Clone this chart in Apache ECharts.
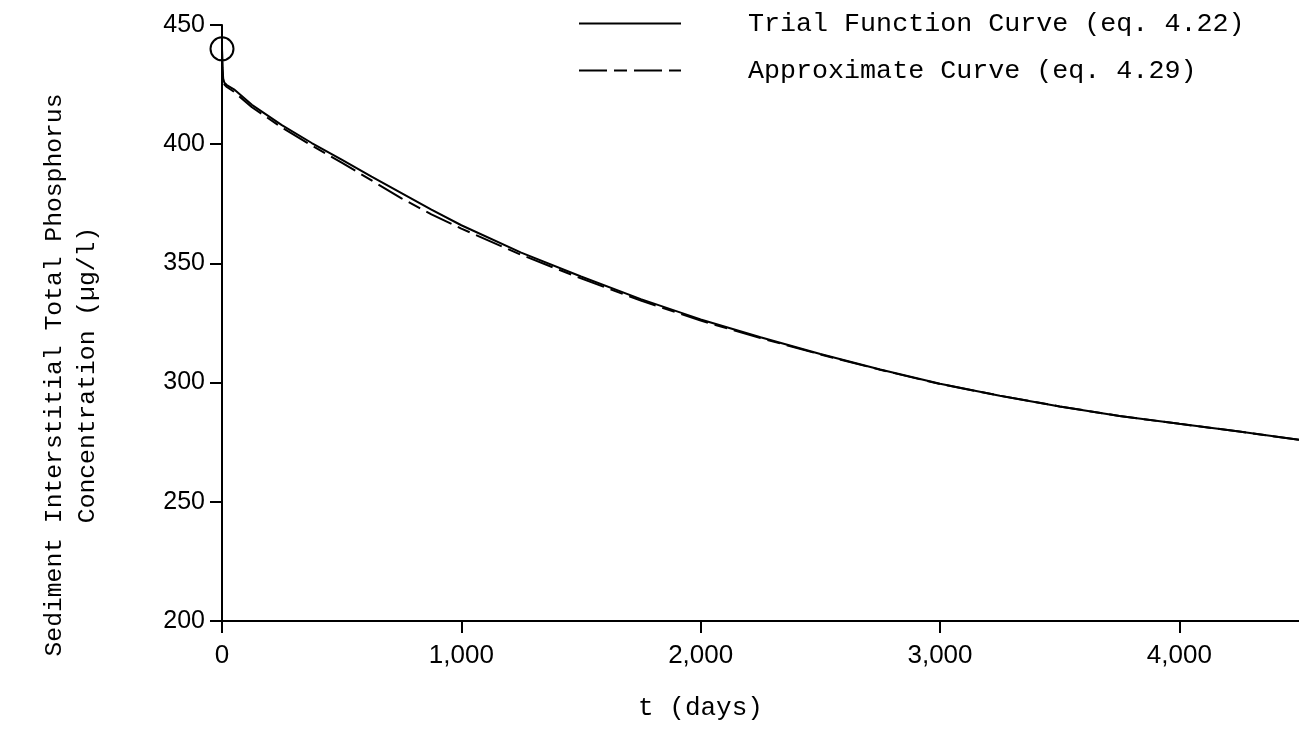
<!DOCTYPE html>
<html>
<head>
<meta charset="utf-8">
<script src="https://cdn.jsdelivr.net/npm/echarts@6/dist/echarts.min.js"></script>
<style>html,body{margin:0;padding:0;background:#fff}#c{width:1299px;height:739px}</style>
</head>
<body>
<div id="c"></div>
<script>
// Data
var tDays = [0, 2, 5, 10, 20, 50, 125, 250, 375, 500, 625, 750, 875, 1000, 1250, 1500, 1750, 2000, 2250, 2500, 2750, 3000, 3250, 3500, 3750, 4000, 4250, 4500];
var trialCurve = [440, 432, 427.5, 425.8, 424.8, 423, 416.5, 408, 400.5, 393.5, 386.4, 379.5, 372.6, 366, 354.5, 344.5, 335, 326.5, 319, 312, 305.5, 299.5, 294.5, 290, 286, 282.7, 279.5, 276];
var approxCurve = [440, 431.5, 427, 425, 424, 422, 415.5, 407, 399.4, 392.3, 384.8, 377.3, 370.6, 364.6, 353.6, 343.7, 334.4, 326, 318.7, 311.8, 305.4, 299.4, 294.5, 290, 286, 282.7, 279.5, 276];
var initialPoint = [[0, 440]];
var seriesNames = ['Trial Function Curve (eq. 4.22)', 'Approximate Curve (eq. 4.29)'];
var xTickValues = [0, 1000, 2000, 3000, 4000];
var yTitle = 'Sediment Interstitial Total Phosphorus\nConcentration (\u00b5g/l)';
var xTitle = 't (days)';

function pairs(xs, ys) { return xs.map(function (x, i) { return [x, ys[i]]; }); }

var mono = 'Liberation Mono';
var sans = 'Liberation Sans';

var chart = echarts.init(document.getElementById('c'), null, {renderer: 'canvas'});
chart.setOption({
  animation: false,
  backgroundColor: '#fff',
  grid: {left: 222, right: 0, top: 25, bottom: 118, containLabel: false, outerBoundsMode: 'none'},
  legend: {
    data: seriesNames,
    orient: 'vertical',
    left: 573,
    top: 5,
    itemWidth: 102,
    itemHeight: 20,
    itemGap: 20,
    itemStyle: {color: 'rgba(0,0,0,0)', borderColor: 'rgba(0,0,0,0)', borderWidth: 0},
    textStyle: {fontFamily: mono, fontSize: 26.7, color: '#000', padding: [0, 0, 0, 62]},
    inactiveColor: '#000'
  },
  xAxis: {
    type: 'value', min: 0, max: 4500, interval: 1000,
    name: xTitle, nameLocation: 'middle', nameGap: 74,
    nameTextStyle: {fontFamily: mono, fontSize: 26, color: '#000', padding: [0, 120, 0, 0]},
    axisLine: {lineStyle: {color: '#000', width: 2}},
    axisTick: {show: true, length: 12, inside: false, customValues: xTickValues, lineStyle: {color: '#000', width: 2}},
    axisLabel: {fontFamily: sans, fontSize: 26, color: '#000', margin: 22, customValues: xTickValues,
      formatter: function (v) { return v.toLocaleString('en-US'); }},
    splitLine: {show: false}
  },
  yAxis: {
    type: 'value', min: 200, max: 450, interval: 50,
    name: yTitle, nameLocation: 'middle', nameGap: 118, nameRotate: 90,
    nameTextStyle: {fontFamily: mono, fontSize: 24.7, color: '#000', lineHeight: 33, padding: [0, 104, 0, 0]},
    axisLine: {lineStyle: {color: '#000', width: 2}},
    axisTick: {show: true, length: 12, inside: false, lineStyle: {color: '#000', width: 2}},
    axisLabel: {fontFamily: sans, fontSize: 25, color: '#000', margin: 17},
    splitLine: {show: false}
  },
  series: [
    {
      name: seriesNames[0], type: 'line', data: pairs(tDays, trialCurve),
      symbol: 'none', smooth: false,
      lineStyle: {color: '#000', width: 2, type: 'solid'},
      itemStyle: {color: '#000'}
    },
    {
      name: seriesNames[1], type: 'line', data: pairs(tDays, approxCurve),
      symbol: 'none', smooth: false,
      lineStyle: {color: '#000', width: 2, type: [28, 7, 13, 7]},
      itemStyle: {color: '#000'}
    },
    {
      name: 'initial', type: 'scatter', data: initialPoint,
      symbol: 'circle', symbolSize: 23,
      itemStyle: {color: 'rgba(0,0,0,0)', borderColor: '#000', borderWidth: 2, opacity: 1},
      z: 5
    }
  ]
});
</script>
</body>
</html>
